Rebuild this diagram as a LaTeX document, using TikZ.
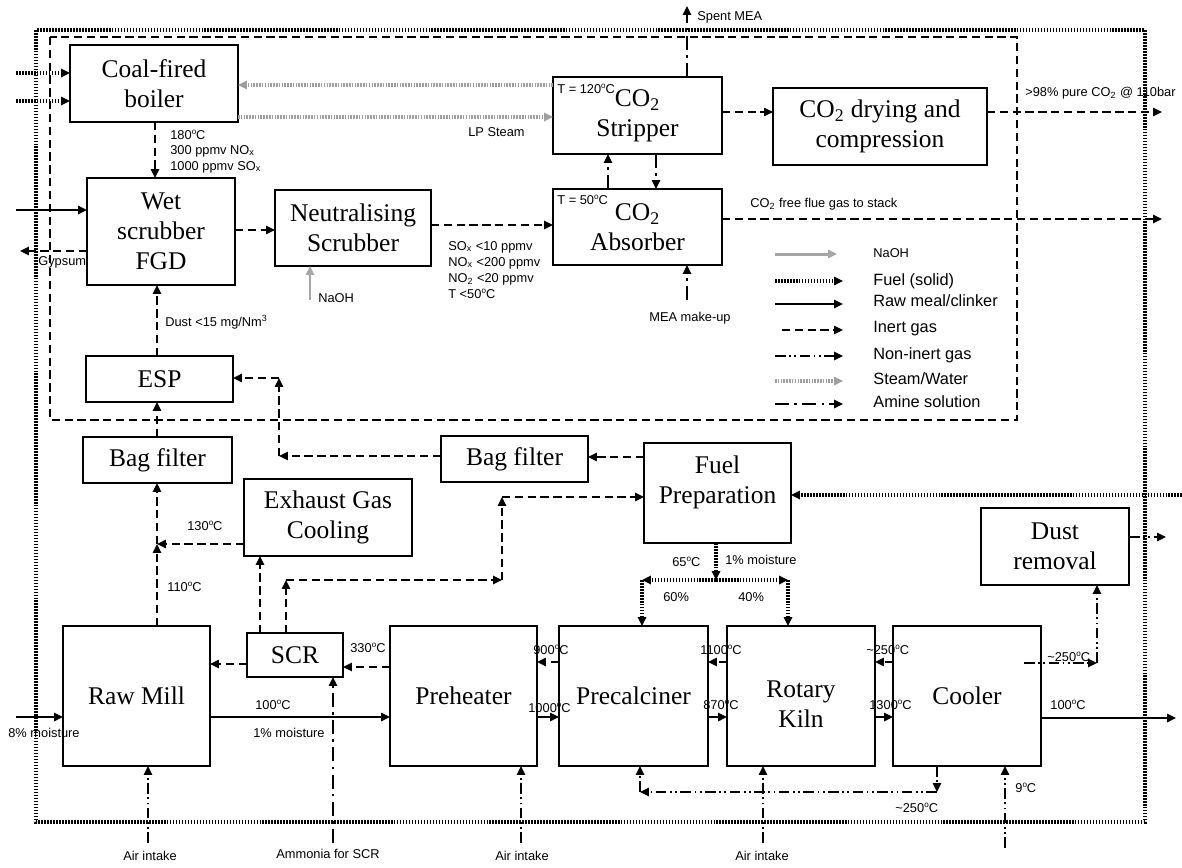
\documentclass[tikz,border=0pt]{standalone}
\usepackage{fontspec}
\setmainfont{Liberation Serif}
\newfontfamily\labf{Liberation Sans}
\usetikzlibrary{arrows.meta}
\newcommand\dg{\raisebox{2.7pt}{\fontsize{4.6}{5}\selectfont o}}
\newcommand\sm{\labf\fontsize{7.3}{8.5}\selectfont}
\newcommand\lgf{\labf\fontsize{9.3}{11}\selectfont}
\newcommand\bxf{\fontsize{14.5}{17}\selectfont}
\tikzset{
 box/.style={draw, line width=1.1pt, inner sep=0pt, outer sep=0pt},
 boxtext/.style={font=\bxf, align=center, inner sep=0pt},
 lab/.style={font=\sm, inner sep=0pt, anchor=west},
 lgl/.style={font=\lgf, inner sep=0pt, anchor=west},
 arr/.style={-{Triangle[length=5pt,width=4.6pt]}},
 inert/.style={line width=1.15pt, dash pattern=on 4.7pt off 2.6pt, arr},
 raw/.style={line width=1.25pt, arr},
 fuel/.style={line width=1.9pt, dash pattern=on 0.9pt off 0.8pt, arr},
 steam/.style={gray!75, line width=1.9pt, dash pattern=on 0.9pt off 0.7pt, arr},
 naoh/.style={gray!70, line width=1.7pt, arr},
 noninert/.style={line width=1.15pt, dash pattern=on 6pt off 2pt on 1pt off 2pt on 1pt off 2pt, arr},
 amine/.style={line width=1.6pt, dash pattern=on 8pt off 3pt on 1.5pt off 3pt, arr},
}
% [text shift]{name}{x1}{y1}{x2}{y2}{text}
\newcommand\bx[7][0]{%
  \node[box, minimum width={(#5-#3)*0.02cm}, minimum height={(#6-#4)*0.02cm}] (#2) at ({(#3+#5)/2},{(#4+#6)/2}) {};
  \node[boxtext] (#2-t) at ({(#3+#5)/2},{(#4+#6)/2+#1}) {#7};
}
\begin{document}
\begin{tikzpicture}[x=0.02cm, y=-0.02cm]
\useasboundingbox (0,0) rectangle (1182,867);
% frames
\draw[line width=1.9pt, dash pattern=on 0.9pt off 0.8pt] (36,30) rectangle (1145,822);
\draw[line width=1.15pt, dash pattern=on 4.7pt off 2.6pt] (50,37) rectangle (1017,420);
% boxes
\bx{boiler}{70}{45}{238}{122}{Coal-fired\\boiler}
\bx{wet}{87}{178}{235}{285}{Wet\\scrubber\\FGD}
\bx{neut}{275}{190}{431}{266}{Neutralising\\Scrubber}
\bx{strip}{553}{77}{722}{154}{CO\textsubscript{2}\\Stripper}
\bx{absorb}{553}{189}{722}{265}{CO\textsubscript{2}\\Absorber}
\bx{dry}{773}{88}{987}{165}{CO\textsubscript{2} drying and\\compression}
\bx{esp}{86}{356}{233}{402}{ESP}
\bx{bagL}{83}{437}{232}{483}{Bag filter}
\bx{egc}{244}{479}{412}{556}{Exhaust Gas\\Cooling}
\bx{bagR}{441}{436}{588}{482}{Bag filter}
\bx[-11]{fuelp}{644}{443}{791}{543}{Fuel\\Preparation}
\bx{dust}{981}{508}{1129}{585}{Dust\\removal}
\bx{rawmill}{63}{626}{210}{766}{Raw Mill}
\bx{scr}{247}{633}{343}{677}{SCR}
\bx{preheat}{390}{626}{537}{766}{Preheater}
\bx{precalc}{559}{626}{708}{766}{Precalciner}
\bx[8]{kiln}{727}{626}{875}{766}{Rotary\\Kiln}
\bx{cooler}{893}{626}{1041}{766}{Cooler}
% ---- CCS section
\coordinate (spent) at (687,6);
\draw[amine] (strip.north -| spent) -- (spent);
\node[lab] at (697,17) {Spent MEA};
\coordinate (fb1) at (16,73); \coordinate (fb2) at (16,101);
\draw[fuel] (fb1) -- (fb1 -| boiler.west);
\draw[fuel] (fb2) -- (fb2 -| boiler.west);
\draw[steam] (strip.west |- 0,85) -- (boiler.east |- 0,85);
\draw[steam] (boiler.east |- 0,117) -- (strip.west |- 0,117);
\node[lab] at (468,132) {LP Steam};
\node[lab] at (557,89) {T = 120\dg C};
\node[lab] at (557,200) {T = 50\dg C};
\draw[inert] (strip.east |- 0,112) -- (dry.west |- 0,112);
\coordinate (co2out) at (1162,112);
\draw[inert] (dry.east |- co2out) -- (co2out);
\node[lab] at (1025,93) {>98\% pure CO\textsubscript{2} @ 110bar};
\coordinate (stack) at (1162,219);
\draw[inert] (absorb.east |- stack) -- (stack);
\node[lab] at (750,204) {CO\textsubscript{2} free flue gas to stack};
\draw[amine] (absorb.north -| 608,0) -- (strip.south -| 608,0);
\draw[amine] (strip.south -| 656,0) -- (absorb.north -| 656,0);
\coordinate (mea) at (687,300);
\draw[amine] (mea) -- (mea |- absorb.south);
\node[lab] at (649,318) {MEA make-up};
\draw[inert] (boiler.south -| 155,0) -- (wet.north -| 155,0);
\node[lab] at (170,135) {180\dg C};
\node[lab] at (170,151) {300 ppmv NO\textsubscript{x}};
\node[lab] at (170,167) {1000 ppmv SO\textsubscript{x}};
\coordinate (lime) at (16,210);
\draw[raw] (lime) -- (lime -| wet.west);
\coordinate (gyp) at (20,251);
\draw[inert] (wet.west |- gyp) -- (gyp);
\node[lab] at (38,262) {Gypsum};
\draw[inert] (wet.east |- 0,230) -- (neut.west |- 0,230);
\draw[inert] (neut.east |- 0,225) -- (absorb.west |- 0,225);
\node[lab] at (448,247) {SO\textsubscript{x} <10 ppmv};
\node[lab] at (448,263) {NO\textsubscript{x} <200 ppmv};
\node[lab] at (448,279) {NO\textsubscript{2} <20 ppmv};
\node[lab] at (448,294) {T <50\dg C};
\coordinate (naohin) at (310,300);
\draw[naoh] (naohin) -- (naohin |- neut.south);
\node[lab] at (318,298) {NaOH};
\draw[inert] (esp.north -| 157,0) -- (wet.south -| 157,0);
\node[lab] at (165,322) {Dust <15 mg/Nm\textsuperscript{3}};
\draw[inert] (bagL.north -| 157,0) -- (esp.south -| 157,0);
\coordinate (c1) at (279,456); \coordinate (c2) at (279,378);
\draw[inert] (bagR.west |- c1) -- (c1);
\draw[inert] (c1) -- (c2);
\draw[inert] (c2) -- (c2 -| esp.east);
% legend
\coordinate (g1) at (775,254); \coordinate (g2) at (775,281); \coordinate (g3) at (775,304);
\coordinate (g4) at (782,330); \coordinate (g5) at (775,356); \coordinate (g6) at (775,381);
\coordinate (g7) at (775,404);
\node[lab] (L1) at (873,253) {NaOH};
\node[lgl] (L2) at (873,281) {Fuel (solid)};
\node[lgl] (L3) at (873,301) {Raw meal/clinker};
\node[lgl] (L4) at (873,329) {Inert gas};
\node[lgl] (L5) at (873,355) {Non-inert gas};
\node[lgl] (L6) at (873,379) {Steam/Water};
\node[lgl] (L7) at (873,402) {Amine solution};
\draw[naoh] (g1) -- ++(62,0);
\draw[fuel] (g2) -- ++(68,0);
\draw[raw] (g3) -- ++(68,0);
\draw[inert] (g4) -- ++(61,0);
\draw[noninert] (g5) -- ++(68,0);
\draw[steam] (g6) -- ++(68,0);
\draw[amine] (g7) -- ++(68,0);
% ---- cement plant
\draw[inert] (fuelp.west |- 0,457) -- (bagR.east |- 0,457);
\coordinate (ffp) at (1182,495);
\draw[fuel] (ffp) -- (ffp -| fuelp.east);
\coordinate (j1) at (157,544);
\draw[inert] (rawmill.north -| j1) -- (j1);
\draw[inert] (j1) -- (j1 |- bagL.south);
\draw[inert] (egc.west |- j1) -- (j1);
\node[lab] at (187,526) {130\dg C};
\node[lab] at (167,587) {110\dg C};
\draw[inert] (scr.north -| 260,0) -- (egc.south -| 260,0);
\coordinate (d1) at (286,580); \coordinate (d2) at (502,580); \coordinate (d3) at (502,497);
\draw[inert] (scr.north -| d1) -- (d1);
\draw[inert] (d1) -- (d2);
\draw[inert] (d2) -- (d3);
\draw[inert] (d3) -- (d3 -| fuelp.west);
\draw[inert] (scr.west |- 0,664) -- (rawmill.east |- 0,664);
\draw[inert] (preheat.west |- 0,667) -- (scr.east |- 0,667);
\node[lab] at (350,648) {330\dg C};
\draw[raw] (rawmill.east |- 0,717) -- (preheat.west |- 0,717);
\node[lab] at (255,705) {100\dg C};
\node[lab] at (253,733) {1\% moisture};
\coordinate (rm) at (16,717);
\draw[raw] (rm) -- (rm -| rawmill.west);
\node[lab] at (8,733) {8\% moisture};
\coordinate (nh3) at (333,843);
\draw[amine] (nh3) -- (nh3 |- scr.south);
\node[font=\sm, inner sep=0pt] at (328,854) {Ammonia for SCR};
\coordinate (a1) at (148,843); \coordinate (a2) at (521,843); \coordinate (a3) at (763,843);
\draw[noninert] (a1) -- (a1 |- rawmill.south);
\draw[noninert] (a2) -- (a2 |- preheat.south);
\draw[noninert] (a3) -- (a3 |- kiln.south);
\node[font=\sm, inner sep=0pt] at (150,856) {Air intake};
\node[font=\sm, inner sep=0pt] at (522,856) {Air intake};
\node[font=\sm, inner sep=0pt] at (762,856) {Air intake};
\draw[inert] (precalc.west |- 0,662) -- (preheat.east |- 0,662);
\draw[raw] (preheat.east |- 0,717) -- (precalc.west |- 0,717);
\draw[inert] (kiln.west |- 0,662) -- (precalc.east |- 0,662);
\draw[raw] (precalc.east |- 0,717) -- (kiln.west |- 0,717);
\draw[inert] (cooler.west |- 0,662) -- (kiln.east |- 0,662);
\draw[raw] (kiln.east |- 0,717) -- (cooler.west |- 0,717);
\node[lab] at (533,650) {900\dg C};
\node[lab] at (528,708) {1000\dg C};
\node[lab] at (700,650) {1100\dg C};
\node[lab] at (703,705) {870\dg C};
\node[lab] at (866,650) {\textasciitilde 250\dg C};
\node[lab] at (869,705) {1300\dg C};
\coordinate (clk) at (1176,718);
\draw[raw] (cooler.east |- clk) -- (clk);
\node[lab] at (1050,705) {100\dg C};
\coordinate (e0) at (1024,663); \coordinate (e1) at (1097,663);
\draw[noninert] (e0) -- (e1);
\draw[noninert] (e1) -- (e1 |- dust.south);
\node[lab] at (1047,657) {\textasciitilde 250\dg C};
\coordinate (dout) at (1166,537);
\draw[noninert] (dust.east |- dout) -- (dout);
\coordinate (t1) at (937,792); \coordinate (t2) at (640,792);
\draw[noninert] (cooler.south -| t1) -- (t1);
\draw[noninert] (t1) -- (t2);
\draw[noninert] (t2) -- (t2 |- precalc.south);
\node[lab] at (895,808) {\textasciitilde 250\dg C};
\coordinate (a4) at (1005,848);
\draw[noninert] (a4) -- (a4 |- cooler.south);
\node[lab] at (1015,788) {9\dg C};
\coordinate (s0) at (716,580); \coordinate (sl) at (642,580); \coordinate (sr) at (788,580);
\draw[fuel] (fuelp.south -| s0) -- (s0);
\draw[fuel] (s0) -- (sl);
\draw[fuel] (s0) -- (sr);
\draw[fuel] (sl) -- (sl |- precalc.north);
\draw[fuel] (sr) -- (sr |- kiln.north);
\node[lab] at (672,562) {65\dg C};
\node[lab] at (725,560) {1\% moisture};
\node[lab] at (663,597) {60\%};
\node[lab] at (738,597) {40\%};
\end{tikzpicture}
\end{document}
